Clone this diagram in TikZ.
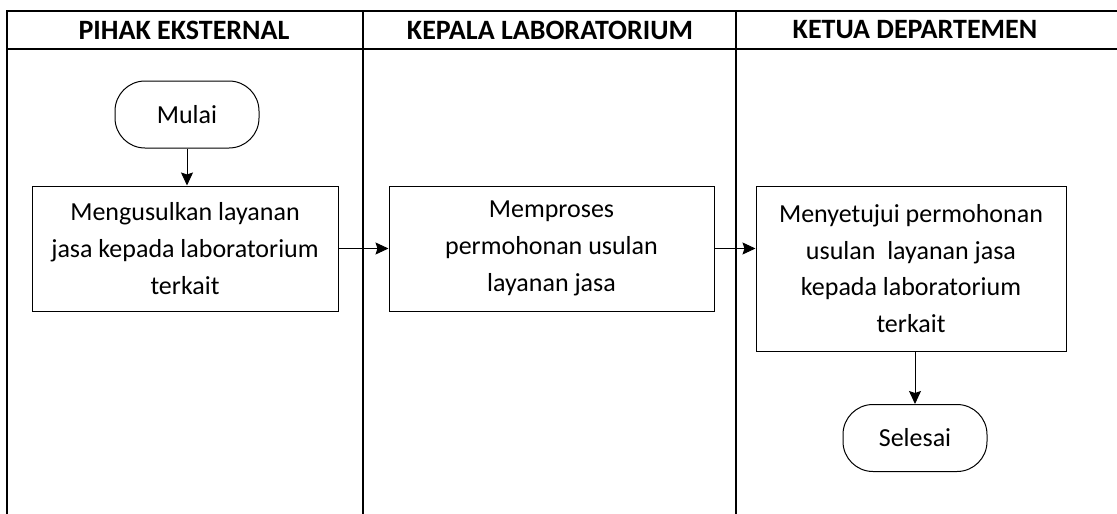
\documentclass[tikz,border=0pt]{standalone}
\usepackage{fontspec}
\setmainfont{Carlito}
\usetikzlibrary{arrows.meta}
\tikzset{
  lane/.style={line width=2pt},
  head/.style={font=\bfseries\fontsize{28}{32}\selectfont},
  proc/.style={draw, line width=1pt, align=center, inner sep=0pt,
    font=\fontsize{26}{36.7}\selectfont},
  term/.style={draw, line width=1pt, rounded corners=30pt, inner sep=0pt,
    minimum width=144pt, minimum height=67pt, font=\fontsize{26}{30}\selectfont},
  flow/.style={line width=1pt, -{Stealth[length=13pt,width=12pt,inset=2pt]}}
}
\begin{document}
\begin{tikzpicture}[x=1pt,y=-1pt]
\useasboundingbox (0,0) rectangle (1117,514);
% swimlanes
\draw[lane] (7,514) -- (7,11) -- (1117,11);
\draw[lane] (7,49) -- (1117,49);
\draw[lane] (363,11) -- (363,514);
\draw[lane] (736,11) -- (736,514);
\node[head] (pihak) at (184,30) {PIHAK EKSTERNAL};
\node[head] (kepala) at (550,30) {KEPALA LABORATORIUM};
\node[head] (ketua) at (915,30) {KETUA DEPARTEMEN};
% steps
\node[term] (mulai) at (187,114.5) {Mulai};
\node[proc, minimum width=306pt, minimum height=125pt] (usul) at (185,248.5)
  {Mengusulkan layanan\\jasa kepada laboratorium\\terkait};
\node[proc, minimum width=325pt, minimum height=125pt] (proses) at (551.5,248.5)
  {Memproses\\permohonan usulan\\layanan jasa};
\node[proc, minimum width=310pt, minimum height=165pt] (setuju) at (911,268.5)
  {Menyetujui permohonan\\usulan\ \ layanan jasa\\kepada laboratorium\\terkait};
\node[term] (selesai) at (915,438) {Selesai};
% arrows
\draw[flow] (mulai.south) -- (mulai.south |- usul.north);
\draw[flow] (usul) -- (proses);
\draw[flow] (proses.east) -- (proses.east -| setuju.west);
\draw[flow] (setuju.south -| selesai.north) -- (selesai.north);
\end{tikzpicture}
\end{document}
